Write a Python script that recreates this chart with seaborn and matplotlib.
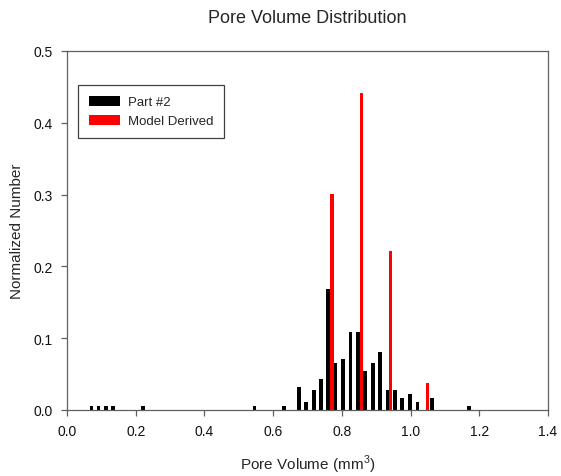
import numpy as np
import matplotlib
matplotlib.use("Agg")
import matplotlib.pyplot as plt
from matplotlib.patches import Patch
import seaborn as sns

# data (pore volume in mm^3, normalized number)
part_x = [0.071, 0.092, 0.114, 0.134, 0.222, 0.546, 0.631, 0.675, 0.696, 0.718,
          0.739, 0.760, 0.781, 0.804, 0.825, 0.847, 0.868, 0.891, 0.912, 0.933,
          0.955, 0.976, 0.998, 1.020, 1.062, 1.171]
part_y = [0.0055, 0.0055, 0.0055, 0.0055, 0.0055, 0.0055, 0.0055, 0.032, 0.011, 0.028,
          0.043, 0.168, 0.065, 0.071, 0.109, 0.109, 0.054, 0.065, 0.081, 0.028,
          0.028, 0.017, 0.022, 0.011, 0.017, 0.0055]
model_x = [0.771, 0.857, 0.942, 1.049]
model_y = [0.301, 0.441, 0.221, 0.038]

sns.set_style("ticks")
plt.rcParams['font.family'] = ['Liberation Sans', 'DejaVu Sans']
plt.rcParams['mathtext.fontset'] = 'custom'
plt.rcParams['mathtext.rm'] = 'Liberation Sans'

fig = plt.figure(figsize=(5.61, 4.77), dpi=100)
ax = fig.add_axes([67 / 561, 1 - 411 / 477, (548 - 67) / 561, (411 - 52) / 477])

# bar width in data units -> seaborn native-scale relative width
black_w = 0.011 / np.diff(np.sort(part_x)).min()
red_w = 0.0095 / np.diff(np.sort(model_x)).min()

sns.barplot(x=part_x, y=part_y, native_scale=True, width=black_w, color="black",
            saturation=1, errorbar=None, linewidth=0, ax=ax)
sns.barplot(x=model_x, y=model_y, native_scale=True, width=red_w, color="#ff0000",
            saturation=1, errorbar=None, linewidth=0, ax=ax)

ax.set_xlim(0, 1.4)
ax.set_ylim(0, 0.5)
ax.set_xticks(np.arange(0, 1.41, 0.2))
ax.set_yticks(np.arange(0, 0.51, 0.1))
ax.set_xticklabels([f"{v:.1f}" for v in np.arange(0, 1.41, 0.2)])
ax.set_yticklabels([f"{v:.1f}" for v in np.arange(0, 0.51, 0.1)])

for s in ax.spines.values():
    s.set_visible(True)
    s.set_color("#606060")
    s.set_linewidth(0.9)
ax.tick_params(direction="out", length=4, width=0.9, color="#606060",
               labelsize=10, labelcolor="#111111", pad=6)

ax.set_title("Pore Volume Distribution", fontsize=13, pad=21)
ax.set_xlabel("Pore Volume (mm$^3$)", fontsize=11, labelpad=11)
ax.set_ylabel("Normalized Number", fontsize=11, labelpad=7)

handles = [Patch(facecolor="black", edgecolor="none", label="Part #2"),
           Patch(facecolor="#ff0000", edgecolor="none", label="Model Derived")]
leg = ax.legend(handles=handles, loc="upper left", bbox_to_anchor=(0.023, 0.905),
                fontsize=9.5, frameon=True, fancybox=False, framealpha=1,
                edgecolor="#404040", borderaxespad=0, handlelength=2.35,
                handleheight=0.78, handletextpad=0.6, labelspacing=0.5,
                borderpad=0.8)
leg.get_frame().set_linewidth(0.9)

fig.savefig("out.png", dpi=100)
